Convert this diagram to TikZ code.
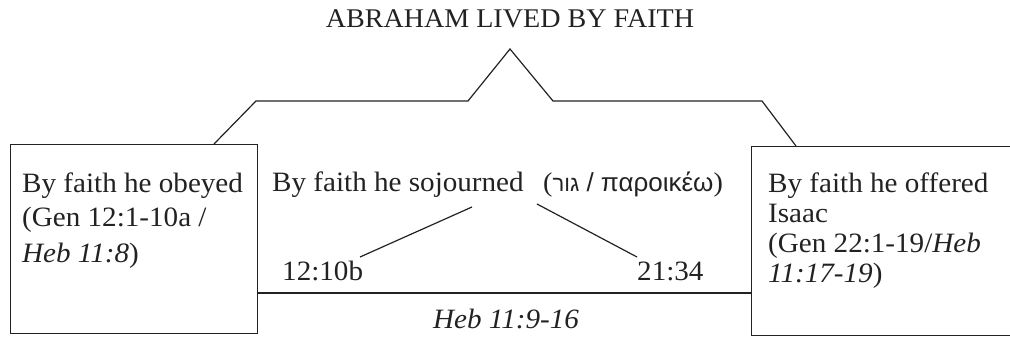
\documentclass[tikz,border=0pt]{standalone}
\usepackage{fontspec}
\setmainfont{Liberation Serif}[FakeStretch=1.04]
\newfontfamily\hebfont[Script=Hebrew]{Liberation Sans}
\newfontfamily\grkfont{Liberation Sans}
\TeXXeTstate=1
\definecolor{ink}{HTML}{222222}
\begin{document}
\begin{tikzpicture}[x=1pt,y=-1pt,
  txt/.style={anchor=base west, inner sep=0pt, text=ink, font=\fontsize{28}{28}\selectfont},
  boxshape/.style={draw=ink, line width=1.3pt, anchor=north west, inner sep=0pt},
  conn/.style={draw=ink, line width=1.2pt}]
\useasboundingbox (0,0) rectangle (1010,339);
% title
\node[txt, anchor=base, font=\fontsize{27}{27}\selectfont] (title) at (510,28) {ABRAHAM LIVED BY FAITH};
% boxes
\node[boxshape, minimum width=247pt, minimum height=189pt] (lbox) at (10,144) {};
\node[boxshape, minimum width=270pt, minimum height=189pt] (rbox) at (751,146) {};
% left box text
\node[txt] (l1) at (22,193) {By faith he obeyed};
\node[txt] (l2) at (22,227) {(Gen 12:1-10a /};
\node[txt] (l3) at (22,263) {\textit{Heb 11:8})};
% right box text
\node[txt] (r1) at (768,193) {By faith he offered};
\node[txt] (r2) at (768,223) {Isaac};
\node[txt] (r3) at (768,253) {(Gen 22:1-19/\textit{Heb}};
\node[txt] (r4) at (768,283) {\textit{11:17-19})};
% middle
\node[txt] (soj) at (272,192) {By faith he sojourned};
\node[txt, font=\fontsize{27}{27}\selectfont] (paren) at (543,192) {({\hebfont\fontsize{22}{22}\selectfont\beginR גור\endR}{\grkfont\fontsize{26}{26}\selectfont\ / παροικέω})};
\node[txt] (n1) at (282,281) {12:10b};
\node[txt] (n2) at (637,280) {21:34};
\node[txt, anchor=base] (heb) at (506,328) {\textit{Heb 11:9-16}};
% bracket
\coordinate (b1) at (214,144);
\coordinate (b2) at (256,101);
\coordinate (b3) at (468,101);
\coordinate (b4) at (510,49);
\coordinate (b5) at (553,101);
\coordinate (b6) at (762,101);
\coordinate (b7) at (796,146);
\draw[conn] (b1) -- (b2) -- (b3) -- (b4) -- (b5) -- (b6) -- (b7);
% sojourn branches
\coordinate (s1) at (472,207);
\coordinate (s2) at (360,257);
\coordinate (s3) at (537,204);
\coordinate (s4) at (637,257);
\draw[conn] (s1) -- (s2);
\draw[conn] (s3) -- (s4);
% base line
\coordinate (h) at (0,293);
\draw[conn] (lbox.east |- h) -- (rbox.west |- h);
\end{tikzpicture}
\end{document}
